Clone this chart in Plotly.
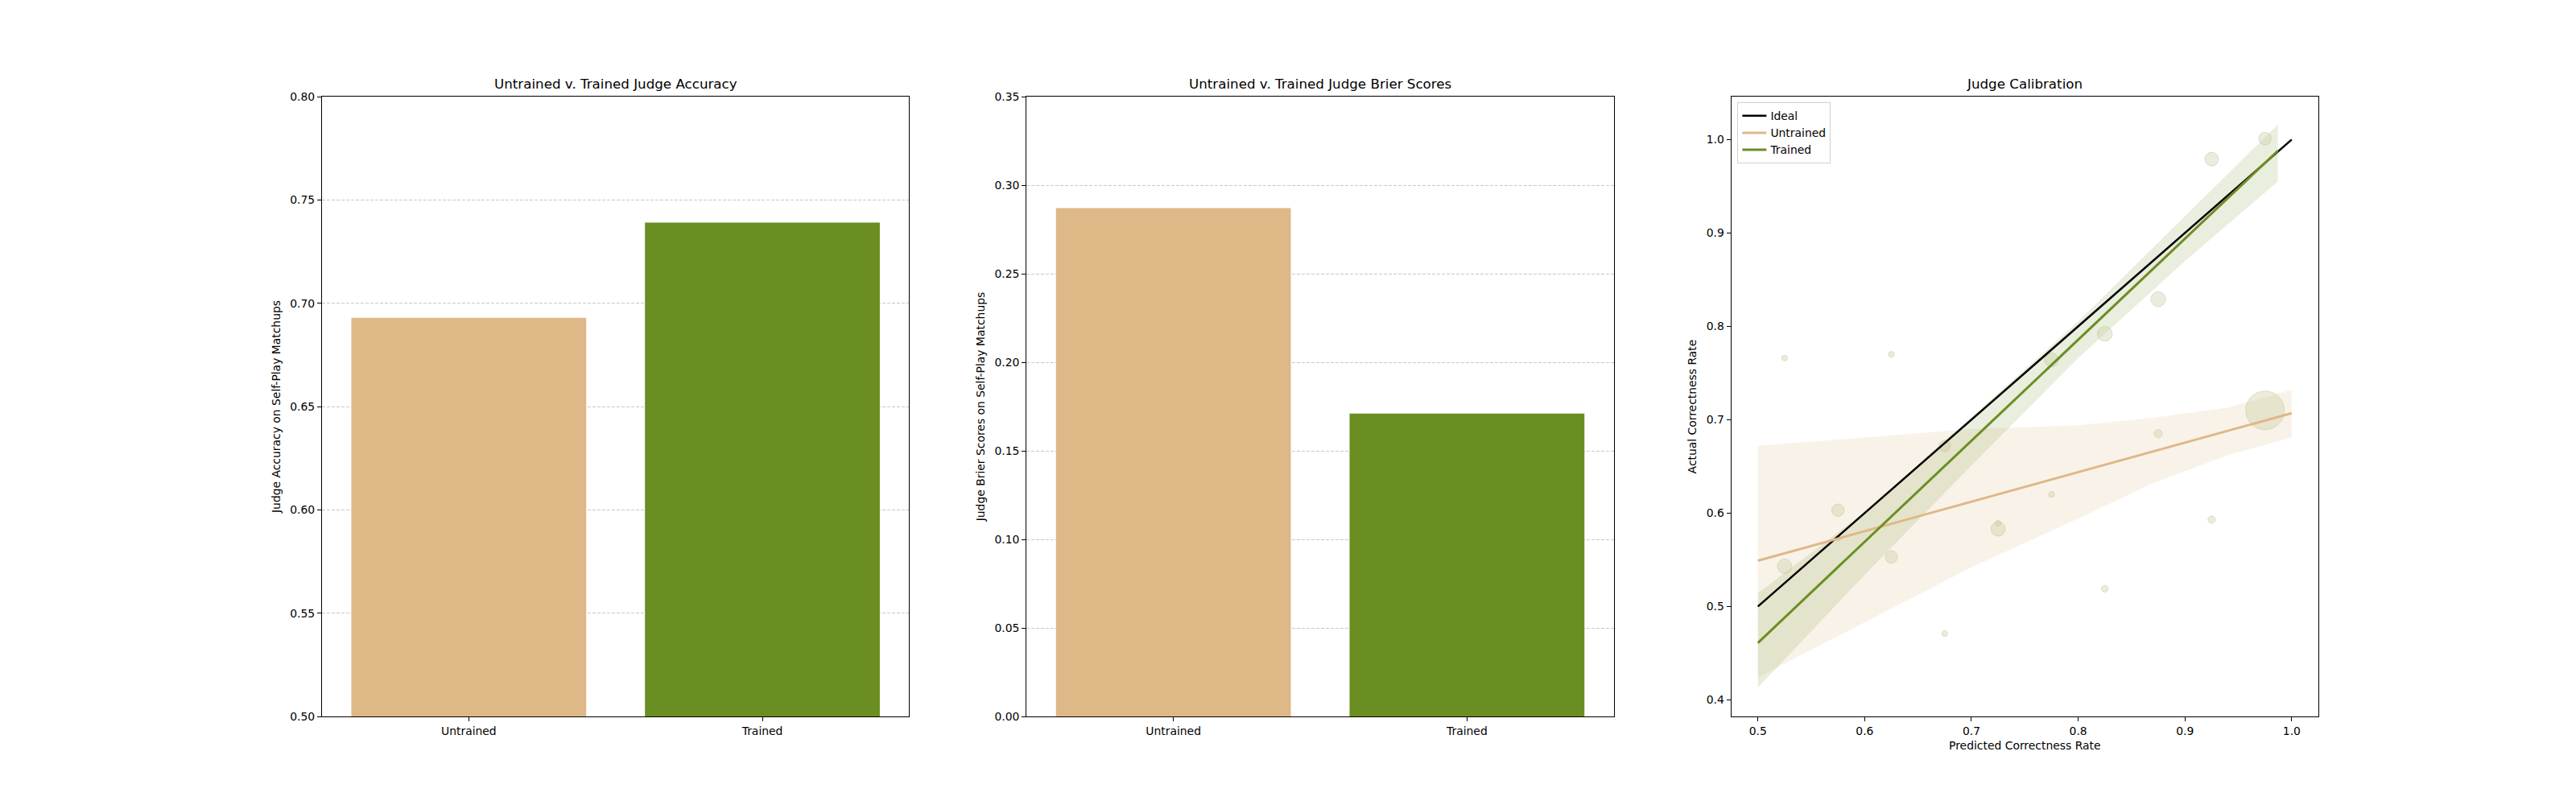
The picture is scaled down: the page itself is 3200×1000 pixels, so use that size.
import plotly.graph_objects as go

# ---------------- data ----------------
categories = ["Untrained", "Trained"]
accuracy = [0.693, 0.739]
brier = [0.287, 0.171]

bin_centers = [0.525, 0.575, 0.625, 0.675, 0.725, 0.775, 0.825, 0.875, 0.925, 0.975]
untrained_actual = [0.766, 0.573, 0.770, 0.471, 0.589, 0.620, 0.519, 0.685, 0.593, 0.710]
trained_actual = [0.543, 0.603, 0.553, 0.672, 0.583, 0.764, 0.792, 0.829, 0.979, 1.001]
untrained_weight = [1, 1, 1, 1, 1, 1, 1.4, 2, 1.7, 46]
trained_weight = [6.4, 4.8, 4.8, 4.0, 6.4, 5.8, 6.8, 6.8, 5.8, 4.8]

ideal_x = [0.5, 1.0]
ideal_y = [0.5, 1.0]
untrained_fit_x = [0.5, 1.0]
untrained_fit_y = [0.549, 0.707]
trained_fit_x = [0.5, 0.987]
trained_fit_y = [0.461, 0.988]

untrained_band_x = [0.5, 0.6, 0.7, 0.8, 0.87, 0.94, 1.0]
untrained_band_hi = [0.672, 0.681, 0.690, 0.694, 0.702, 0.713, 0.732]
untrained_band_lo = [0.424, 0.483, 0.542, 0.594, 0.632, 0.662, 0.681]

trained_band_x = [0.5, 0.6, 0.7, 0.8, 0.9, 0.987]
trained_band_hi = [0.514, 0.601, 0.703, 0.805, 0.918, 1.016]
trained_band_lo = [0.413, 0.534, 0.651, 0.766, 0.870, 0.955]

acc_ticks = [0.50, 0.55, 0.60, 0.65, 0.70, 0.75, 0.80]
brier_ticks = [0.00, 0.05, 0.10, 0.15, 0.20, 0.25, 0.30, 0.35]
cal_x_ticks = [0.5, 0.6, 0.7, 0.8, 0.9, 1.0]
cal_y_ticks = [0.4, 0.5, 0.6, 0.7, 0.8, 0.9, 1.0]

# ---------------- style ----------------
UNTRAINED = "#DEB887"
TRAINED = "#6B8E23"
FONT = "DejaVu Sans"
FS = 13.9

fig = go.Figure()

# Panel 1 bars
fig.add_trace(go.Bar(x=categories, y=accuracy, marker_color=[UNTRAINED, TRAINED],
                     marker_line_width=0, width=0.8, showlegend=False,
                     xaxis="x", yaxis="y"))
# Panel 2 bars
fig.add_trace(go.Bar(x=categories, y=brier, marker_color=[UNTRAINED, TRAINED],
                     marker_line_width=0, width=0.8, showlegend=False,
                     xaxis="x2", yaxis="y2"))

# Panel 3 bands
def band(xs, hi, lo, color):
    return go.Scatter(x=list(xs) + list(xs)[::-1], y=list(hi) + list(lo)[::-1],
                      fill="toself", fillcolor=color, mode="none", line_width=0,
                      hoverinfo="skip", showlegend=False, xaxis="x3", yaxis="y3")

fig.add_trace(band(untrained_band_x, untrained_band_hi, untrained_band_lo,
                   "rgba(222,184,135,0.18)"))
fig.add_trace(band(trained_band_x, trained_band_hi, trained_band_lo,
                   "rgba(107,142,35,0.15)"))

# Points
for ys, ws in [(untrained_actual, untrained_weight), (trained_actual, trained_weight)]:
    fig.add_trace(go.Scatter(
        x=bin_centers, y=ys, mode="markers", showlegend=False,
        marker=dict(size=ws, sizemode="area", sizeref=1 / 25,
                    color="rgba(200,204,160,0.5)",
                    line=dict(color="rgba(185,190,140,0.65)", width=1)),
        xaxis="x3", yaxis="y3"))

# Lines
fig.add_trace(go.Scatter(x=ideal_x, y=ideal_y, mode="lines", name="Ideal",
                         line=dict(color="black", width=2.5), xaxis="x3", yaxis="y3"))
fig.add_trace(go.Scatter(x=untrained_fit_x, y=untrained_fit_y, mode="lines", name="Untrained",
                         line=dict(color=UNTRAINED, width=3), xaxis="x3", yaxis="y3"))
fig.add_trace(go.Scatter(x=trained_fit_x, y=trained_fit_y, mode="lines", name="Trained",
                         line=dict(color=TRAINED, width=3), xaxis="x3", yaxis="y3"))

# ---------------- layout ----------------
doms = [[0.125, 0.35294], [0.39853, 0.62647], [0.67206, 0.9]]
ydom = [0.11, 0.88]

axis_common = dict(showline=True, mirror=True, linecolor="black", linewidth=1.1,
                   ticks="outside", ticklen=5, tickwidth=1.1, tickcolor="black",
                   tickfont=dict(family=FONT, size=FS, color="black"),
                   zeroline=False, automargin=False)

title_font = dict(family=FONT, size=FS, color="black")

fig.update_layout(
    width=3200, height=1000, autosize=False,
    margin=dict(l=0, r=0, t=0, b=0, autoexpand=False),
    paper_bgcolor="white", plot_bgcolor="white",
    font=dict(family=FONT, size=FS, color="black"),
    bargap=0.2,
    xaxis=dict(domain=doms[0], anchor="y", type="category", range=[-0.5, 1.5],
               showgrid=False, **axis_common),
    yaxis=dict(domain=ydom, anchor="x", range=[0.5, 0.8], tickvals=acc_ticks,
               tickformat=".2f", showgrid=True, gridcolor="#c8c8c8", gridwidth=1,
               griddash="4px,2px",
               title=dict(text="Judge Accuracy on Self-Play Matchups", font=title_font, standoff=8),
               **axis_common),
    xaxis2=dict(domain=doms[1], anchor="y2", type="category", range=[-0.5, 1.5],
                showgrid=False, **axis_common),
    yaxis2=dict(domain=ydom, anchor="x2", range=[0, 0.35], tickvals=brier_ticks,
                tickformat=".2f", showgrid=True, gridcolor="#c8c8c8", gridwidth=1,
                griddash="4px,2px",
                title=dict(text="Judge Brier Scores on Self-Play Matchups", font=title_font, standoff=8),
                **axis_common),
    xaxis3=dict(domain=doms[2], anchor="y3", range=[0.475, 1.025], tickvals=cal_x_ticks,
                tickformat=".1f", showgrid=False,
                title=dict(text="Predicted Correctness Rate", font=title_font, standoff=6),
                **axis_common),
    yaxis3=dict(domain=ydom, anchor="x3", range=[0.3822, 1.046], tickvals=cal_y_ticks,
                tickformat=".1f", showgrid=False,
                title=dict(text="Actual Correctness Rate", font=title_font, standoff=8),
                **axis_common),
    legend=dict(x=0.6745, y=0.8727, xanchor="left", yanchor="top",
                bgcolor="rgba(255,255,255,0.8)", bordercolor="#d0d0d0", borderwidth=1,
                font=dict(family=FONT, size=FS, color="black"), tracegroupgap=0,
                itemwidth=30),
    showlegend=True,
)

titles = ["Untrained v. Trained Judge Accuracy",
          "Untrained v. Trained Judge Brier Scores",
          "Judge Calibration"]
for d, t in zip(doms, titles):
    fig.add_annotation(text=t, x=(d[0] + d[1]) / 2, y=0.88, xref="paper", yref="paper",
                       xanchor="center", yanchor="bottom", yshift=4, showarrow=False,
                       font=dict(family=FONT, size=16.7, color="black"))

fig.write_html("out.html", config={"displayModeBar": False},
               post_script="document.body.style.margin='0';document.body.style.padding='0';"
                           "document.documentElement.style.overflow='hidden';")
